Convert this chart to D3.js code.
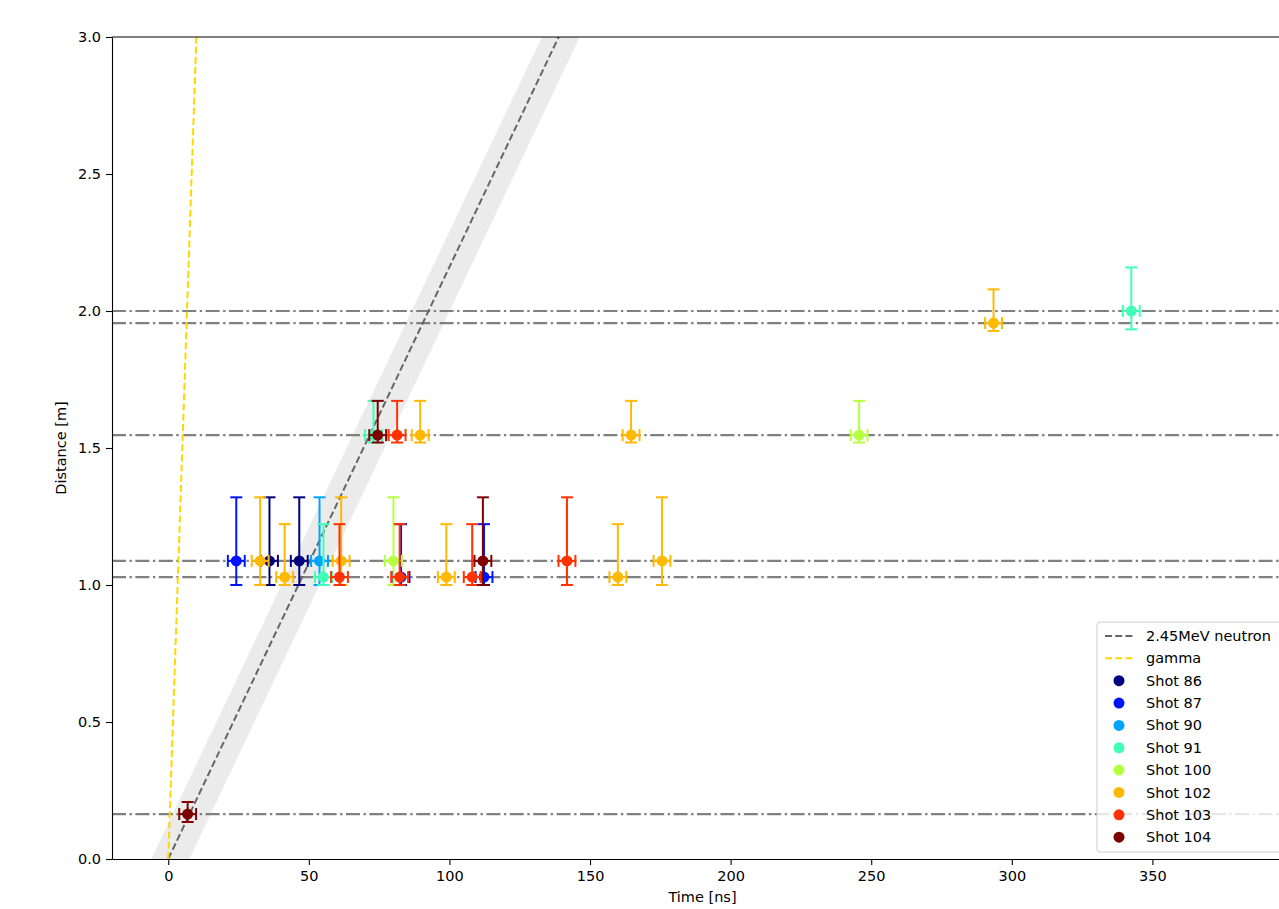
<!DOCTYPE html>
<html>
<head>
<meta charset="utf-8">
<script src="https://cdn.jsdelivr.net/npm/d3@7"></script>
<style>
  html, body { margin: 0; padding: 0; overflow: hidden; background: #fff; }
  text { font-family: "DejaVu Sans", sans-serif; }
</style>
</head>
<body>
<div id="wrapper"></div>
<script>
// shots and their colours (jet colormap, 8 steps)
const shots = ["Shot 86", "Shot 87", "Shot 90", "Shot 91", "Shot 100", "Shot 102", "Shot 103", "Shot 104"]
const shotColors = ["#00007f", "#0012ff", "#00a4ff", "#41ffb6", "#b6ff41", "#ffb900", "#ff3200", "#7f0000"]

// detector distances [m] and their uncertainty range
const detectorDist = [0.164, 1.029, 1.088, 1.547, 1.956, 2.0]
const detectorLow  = [0.135, 1.0,   1.0,   1.52,  1.927, 1.933]
const detectorHigh = [0.208, 1.222, 1.32,  1.672, 2.079, 2.159]

// measured arrivals: shot index, detector index, time [ns]
const pointShot = [0, 0, 1, 1, 1, 2, 3, 3, 3, 4, 4, 5, 5, 5, 5, 5, 5, 5, 5, 5, 6, 6, 6, 6, 6, 7, 7, 7]
const pointDet  = [2, 2, 2, 1, 1, 2, 1, 3, 5, 2, 3, 2, 1, 2, 3, 1, 3, 1, 2, 4, 1, 3, 1, 1, 2, 0, 3, 2]
const pointTime = [36.0, 46.6, 24.2, 82.8, 112.3, 53.8, 55.2, 73.0, 342.5, 80.1, 245.7,
                   32.7, 41.4, 61.5, 89.6, 98.9, 164.6, 159.9, 175.6, 293.5,
                   60.9, 81.4, 82.3, 108.1, 141.8, 6.9, 74.5, 111.9]
const timeErr = 3

// reference flight lines
const neutronSpeed = 0.021606   // m/ns, 2.45 MeV
const gammaSpeed = 0.29979      // m/ns
const neutronBand = [-6, 7.5]   // ns around the neutron line

const xTicks = [0, 50, 100, 150, 200, 250, 300, 350, 400]
const yTicks = [0, 0.5, 1.0, 1.5, 2.0, 2.5, 3.0]

function drawChart() {
  const dimensions = {
    width: 1340,
    height: 909,
    margin: { top: 37, left: 112, right: 47, bottom: 50 },
  }
  dimensions.boundedWidth = 1293 - dimensions.margin.left
  dimensions.boundedHeight = 859 - dimensions.margin.top

  const wrapper = d3.select("#wrapper")
    .append("svg")
      .attr("width", dimensions.width)
      .attr("height", dimensions.height)

  const bounds = wrapper.append("g")
      .attr("transform", `translate(${dimensions.margin.left},${dimensions.margin.top})`)

  bounds.append("clipPath").attr("id", "plot-clip")
    .append("rect")
      .attr("width", dimensions.boundedWidth)
      .attr("height", dimensions.boundedHeight)

  const xScale = d3.scaleLinear()
    .domain([-20, 400])
    .range([0, dimensions.boundedWidth])
  const yScale = d3.scaleLinear()
    .domain([0, 3])
    .range([dimensions.boundedHeight, 0])

  const plot = bounds.append("g").attr("clip-path", "url(#plot-clip)")
  const dists = [0, 3]

  // neutron uncertainty band
  const band = d3.area()
    .y(d => yScale(d))
    .x0(d => xScale(d / neutronSpeed + neutronBand[0]))
    .x1(d => xScale(d / neutronSpeed + neutronBand[1]))
  plot.append("path")
      .datum(dists)
      .attr("d", band)
      .attr("fill", "#d3d3d3")
      .attr("fill-opacity", 0.45)

  // detector distance lines
  plot.selectAll(".det")
    .data(detectorDist)
    .join("line")
      .attr("x1", 0)
      .attr("x2", dimensions.boundedWidth)
      .attr("y1", d => yScale(d))
      .attr("y2", d => yScale(d))
      .attr("stroke", "#808080")
      .attr("stroke-width", 2.2)
      .attr("stroke-dasharray", "14 3.5 2.4 3.5")

  const flightLine = speed => d3.line()
    .x(d => xScale(d / speed))
    .y(d => yScale(d))

  plot.append("path")
      .datum(dists)
      .attr("d", flightLine(neutronSpeed))
      .attr("fill", "none")
      .attr("stroke", "#666")
      .attr("stroke-width", 2)
      .attr("stroke-dasharray", "7 3.2")

  plot.append("path")
      .datum(dists)
      .attr("d", flightLine(gammaSpeed))
      .attr("fill", "none")
      .attr("stroke", "#ffd700")
      .attr("stroke-width", 2)
      .attr("stroke-dasharray", "7 3.2")

  // error bars + markers, one group per shot
  const cap = 6
  shots.forEach((shot, s) => {
    const g = plot.append("g")
    const idx = d3.range(pointShot.length).filter(i => pointShot[i] === s)
    const color = shotColors[s]
    idx.forEach(i => {
      const cx = xScale(pointTime[i])
      const cy = yScale(detectorDist[pointDet[i]])
      const yLo = yScale(detectorLow[pointDet[i]])
      const yHi = yScale(detectorHigh[pointDet[i]])
      const xLo = xScale(pointTime[i] - timeErr)
      const xHi = xScale(pointTime[i] + timeErr)
      const segs = [
        [cx, yLo, cx, yHi],
        [cx - cap, yLo, cx + cap, yLo],
        [cx - cap, yHi, cx + cap, yHi],
        [xLo, cy, xHi, cy],
        [xLo, cy - cap, xLo, cy + cap],
        [xHi, cy - cap, xHi, cy + cap],
      ]
      g.selectAll(null)
        .data(segs)
        .join("line")
          .attr("x1", d => d[0]).attr("y1", d => d[1])
          .attr("x2", d => d[2]).attr("y2", d => d[3])
          .attr("stroke", color)
          .attr("stroke-width", 2)
    })
    g.selectAll("circle")
      .data(idx)
      .join("circle")
        .attr("cx", i => xScale(pointTime[i]))
        .attr("cy", i => yScale(detectorDist[pointDet[i]]))
        .attr("r", 5.5)
        .attr("fill", color)
  })

  // axes
  const xAxis = bounds.append("g")
      .attr("transform", `translate(0,${dimensions.boundedHeight})`)
      .call(d3.axisBottom(xScale).tickValues(xTicks).tickSize(6).tickPadding(6).tickSizeOuter(0))
  const yAxis = bounds.append("g")
      .call(d3.axisLeft(yScale).tickValues(yTicks).tickFormat(d3.format(".1f"))
        .tickSize(6).tickPadding(5).tickSizeOuter(0))

  ;[xAxis, yAxis].forEach(ax => {
    ax.selectAll("text")
      .style("font-size", "14.5px")
      .style("font-family", "'DejaVu Sans', sans-serif")
      .attr("fill", "#000")
    ax.selectAll("line").attr("stroke", "#000").attr("stroke-width", 1.1)
    ax.select(".domain").attr("stroke", "#000").attr("stroke-width", 1.1)
  })

  // top & right spines
  bounds.append("line")
      .attr("x1", 0).attr("x2", dimensions.boundedWidth)
      .attr("y1", 0).attr("y2", 0)
      .attr("stroke", "#000").attr("stroke-width", 1.1)
  bounds.append("line")
      .attr("x1", dimensions.boundedWidth).attr("x2", dimensions.boundedWidth)
      .attr("y1", 0).attr("y2", dimensions.boundedHeight)
      .attr("stroke", "#000").attr("stroke-width", 1.1)

  xAxis.append("text")
      .attr("x", dimensions.boundedWidth / 2)
      .attr("y", 43)
      .attr("text-anchor", "middle")
      .attr("fill", "#000")
      .style("font-size", "14.5px")
      .text("Time [ns]")

  yAxis.append("text")
      .attr("transform", `translate(-46,${dimensions.boundedHeight / 2}) rotate(-90)`)
      .attr("text-anchor", "middle")
      .attr("fill", "#000")
      .style("font-size", "14.5px")
      .text("Distance [m]")

  // legend
  const legendW = 189, legendH = 230, rowH = 22.35
  const legend = bounds.append("g")
      .attr("transform", `translate(${dimensions.boundedWidth - 7 - legendW},${dimensions.boundedHeight - 7 - legendH})`)
  legend.append("rect")
      .attr("width", legendW)
      .attr("height", legendH)
      .attr("rx", 3)
      .attr("fill", "#fff")
      .attr("fill-opacity", 0.8)
      .attr("stroke", "#ccc")

  const lineEntries = [
    { label: "2.45MeV neutron", color: "#666" },
    { label: "gamma", color: "#ffd700" },
  ]
  lineEntries.forEach((e, i) => {
    const y = 14 + i * rowH
    legend.append("line")
        .attr("x1", 8).attr("x2", 36)
        .attr("y1", y).attr("y2", y)
        .attr("stroke", e.color)
        .attr("stroke-width", 2)
        .attr("stroke-dasharray", "7 3.2")
    legend.append("text")
        .attr("x", 49).attr("y", y)
        .attr("dy", "0.35em")
        .style("font-size", "14.5px")
        .text(e.label)
  })
  shots.forEach((shot, i) => {
    const y = 14 + (i + 2) * rowH
    legend.append("circle")
        .attr("cx", 22).attr("cy", y)
        .attr("r", 5.5)
        .attr("fill", shotColors[i])
    legend.append("text")
        .attr("x", 49).attr("y", y)
        .attr("dy", "0.35em")
        .style("font-size", "14.5px")
        .text(shot)
  })
}
drawChart()
</script>
</body>
</html>
